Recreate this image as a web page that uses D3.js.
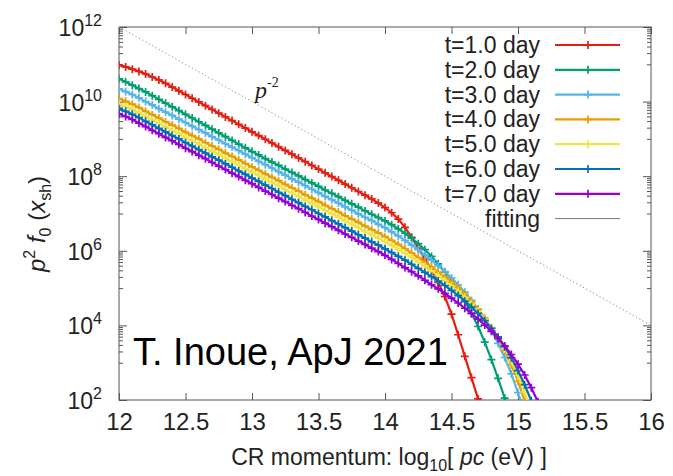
<!DOCTYPE html>
<html>
<head>
<meta charset="utf-8">
<script src="https://cdn.jsdelivr.net/npm/d3@7"></script>
<style>
body{margin:0;background:#fff}
text{font-family:"Liberation Sans",Arial,Helvetica,sans-serif;fill:#222}
</style>
</head>
<body>
<svg id="chart" width="673" height="476"></svg>
<script>
// log10 of CR momentum pc (eV), sample grid of the simulation output
const logP = [12.00,12.05,12.10,12.15,12.20,12.25,12.30,12.35,12.40,12.45,
  12.50,12.55,12.60,12.65,12.70,12.75,12.80,12.85,12.90,12.95,
  13.00,13.05,13.10,13.15,13.20,13.25,13.30,13.35,13.40,13.45,
  13.50,13.55,13.60,13.65,13.70,13.75,13.80,13.85,13.90,13.95,
  14.00,14.05,14.10,14.15,14.20,14.25,14.30,14.35,14.40,14.45,
  14.50,14.55,14.60,14.65,14.70,14.75,14.80,14.85,14.90,14.95,
  15.00,15.05,15.10,15.15,15.20]

// log10 of p^2 f0(x_sh), one array per snapshot
const day1 = [10.98,10.93,10.87,10.81,10.74,10.66,10.58,10.49,10.39,10.29,
  10.19,10.09,9.99,9.89,9.79,9.69,9.59,9.49,9.39,9.29,
  9.19,9.09,8.99,8.89,8.79,8.69,8.59,8.49,8.39,8.29,
  8.19,8.09,7.99,7.89,7.79,7.69,7.59,7.49,7.39,7.28,
  7.16,7.02,6.85,6.63,6.36,6.07,5.78,5.49,5.15,4.77,
  4.30,3.75,3.17,2.60,2.03,1.45]
const day2 = [10.61,10.53,10.44,10.35,10.26,10.16,10.06,9.96,9.86,9.76,
  9.66,9.56,9.46,9.36,9.26,9.16,9.06,8.96,8.86,8.76,
  8.66,8.57,8.47,8.38,8.29,8.19,8.10,8.01,7.91,7.82,
  7.73,7.63,7.54,7.45,7.35,7.26,7.17,7.07,6.98,6.89,
  6.80,6.70,6.59,6.47,6.34,6.19,6.03,5.85,5.65,5.43,
  5.19,4.93,4.64,4.32,3.97,3.55,3.08,2.58,2.05,1.48]
const day3 = [10.34,10.27,10.19,10.10,10.00,9.91,9.81,9.72,9.63,9.53,
  9.44,9.34,9.25,9.16,9.06,8.97,8.87,8.78,8.69,8.59,
  8.50,8.40,8.31,8.22,8.12,8.03,7.93,7.84,7.75,7.65,
  7.56,7.46,7.37,7.28,7.18,7.09,6.99,6.90,6.81,6.71,
  6.62,6.51,6.40,6.28,6.16,6.03,5.89,5.75,5.60,5.44,
  5.27,5.09,4.89,4.67,4.43,4.16,3.86,3.52,3.14,2.70,
  2.20,1.65]
const day4 = [10.08,10.01,9.93,9.84,9.74,9.65,9.56,9.46,9.37,9.28,
  9.18,9.09,9.00,8.90,8.81,8.72,8.62,8.53,8.44,8.34,
  8.25,8.16,8.06,7.97,7.88,7.78,7.69,7.60,7.50,7.41,
  7.32,7.22,7.13,7.04,6.94,6.85,6.76,6.66,6.57,6.48,
  6.38,6.28,6.17,6.06,5.94,5.82,5.69,5.56,5.43,5.30,
  5.16,5.00,4.83,4.64,4.43,4.20,3.94,3.65,3.32,2.94,
  2.50,1.98,1.40]
const day5 = [9.94,9.87,9.79,9.70,9.60,9.51,9.42,9.32,9.23,9.14,
  9.04,8.95,8.86,8.76,8.67,8.58,8.48,8.39,8.30,8.20,
  8.11,8.02,7.92,7.83,7.74,7.64,7.55,7.46,7.36,7.27,
  7.18,7.08,6.99,6.90,6.80,6.71,6.62,6.52,6.43,6.34,
  6.25,6.15,6.04,5.93,5.82,5.70,5.58,5.46,5.33,5.20,
  5.06,4.91,4.75,4.57,4.38,4.17,3.93,3.67,3.38,3.04,
  2.65,2.21,1.72]
const day6 = [9.81,9.74,9.66,9.57,9.47,9.38,9.28,9.19,9.09,9.00,
  8.90,8.81,8.71,8.62,8.52,8.43,8.33,8.24,8.14,8.05,
  7.95,7.86,7.76,7.67,7.57,7.48,7.38,7.29,7.19,7.10,
  7.00,6.91,6.81,6.72,6.62,6.53,6.43,6.34,6.24,6.15,
  6.05,5.95,5.85,5.75,5.64,5.53,5.42,5.31,5.19,5.07,
  4.94,4.80,4.65,4.49,4.32,4.13,3.92,3.69,3.43,3.13,
  2.79,2.41,1.98,1.50]
const day7 = [9.67,9.60,9.52,9.42,9.33,9.23,9.14,9.04,8.95,8.85,
  8.75,8.66,8.56,8.47,8.37,8.27,8.18,8.08,7.99,7.89,
  7.80,7.70,7.60,7.51,7.41,7.32,7.22,7.13,7.03,6.93,
  6.84,6.74,6.65,6.55,6.45,6.36,6.26,6.17,6.07,5.98,
  5.88,5.77,5.66,5.55,5.44,5.33,5.21,5.09,4.98,4.86,
  4.73,4.60,4.46,4.32,4.17,4.01,3.84,3.65,3.45,3.22,
  2.96,2.67,2.33,1.95,1.50]

const labels = ["t=1.0 day","t=2.0 day","t=3.0 day","t=4.0 day","t=5.0 day","t=6.0 day","t=7.0 day"]
const colors = ["#e51e10","#009e73","#56b4e9","#e69f00","#f0e442","#0072b2","#9400d3"]
const allDays = [day1,day2,day3,day4,day5,day6,day7]

// p^-2 guide line: [log10 pc, log10 value]
const guideP = [12,16]
const guideV = [12,4]

const xTicks = [12,12.5,13,13.5,14,14.5,15,15.5,16]
const yExp = [2,4,6,8,10,12]

const svg = d3.select('#chart')
const pLeft = 119, pRight = 651, pTop = 27, pBottom = 400
const x = d3.scaleLinear().domain([12,16]).range([pLeft,pRight])
const y = d3.scaleLog().domain([1e2,1e12]).range([pBottom,pTop])
const axisColor = '#555'

svg.append('clipPath').attr('id','plotclip')
  .append('rect').attr('x',pLeft).attr('y',pTop).attr('width',pRight-pLeft).attr('height',pBottom-pTop)

// minor log ticks: k * 10^(odd) inside each two-decade interval
const minor = []
yExp.slice(0,-1).forEach(e => { for (let k=1;k<10;k++) minor.push(k*Math.pow(10,e+1)) })
const major = yExp.map(e => Math.pow(10,e))

function styleAxis(g){
  g.select('.domain').remove()
  g.selectAll('line').attr('stroke',axisColor)
}

// x axis bottom + top mirror
svg.append('g').attr('transform',`translate(0,${pBottom})`)
  .call(d3.axisBottom(x).tickValues(xTicks).tickSizeInner(-7).tickSizeOuter(0).tickPadding(13)
    .tickFormat(d3.format('~g')))
  .call(styleAxis)
  .selectAll('text').attr('font-size',24).attr('fill','#222')
svg.append('g').attr('transform',`translate(0,${pTop})`)
  .call(d3.axisTop(x).tickValues(xTicks).tickSizeInner(-7).tickSizeOuter(0).tickFormat(''))
  .call(styleAxis)

// y axis left/right, major + minor
svg.append('g').attr('transform',`translate(${pLeft},0)`)
  .call(d3.axisLeft(y).tickValues(major).tickSizeInner(-8).tickSizeOuter(0).tickFormat(''))
  .call(styleAxis)
svg.append('g').attr('transform',`translate(${pLeft},0)`)
  .call(d3.axisLeft(y).tickValues(minor).tickSizeInner(-4).tickSizeOuter(0).tickFormat(''))
  .call(styleAxis)
svg.append('g').attr('transform',`translate(${pRight},0)`)
  .call(d3.axisRight(y).tickValues(major).tickSizeInner(-8).tickSizeOuter(0).tickFormat(''))
  .call(styleAxis)
svg.append('g').attr('transform',`translate(${pRight},0)`)
  .call(d3.axisRight(y).tickValues(minor).tickSizeInner(-4).tickSizeOuter(0).tickFormat(''))
  .call(styleAxis)

// y tick labels 10^n
const ylab = svg.append('g').selectAll('text').data(yExp).enter().append('text')
  .attr('x',102).attr('y',d => y(Math.pow(10,d)) + 9)
  .attr('text-anchor','end').attr('font-size',23)
ylab.append('tspan').text('10')
ylab.append('tspan').attr('dy',-10).attr('font-size',16).text(d => d)

// border box
svg.append('rect').attr('x',pLeft).attr('y',pTop).attr('width',pRight-pLeft).attr('height',pBottom-pTop)
  .attr('fill','none').attr('stroke',axisColor).attr('stroke-width',1)

const plot = svg.append('g').attr('clip-path','url(#plotclip)')

// p^-2 reference
plot.append('path')
  .datum(guideP.map((p,i) => [p, guideV[i]]))
  .attr('d', d3.line().x(d => x(d[0])).y(d => y(Math.pow(10,d[1]))))
  .attr('fill','none').attr('stroke','#8a8a8a').attr('stroke-width',1).attr('stroke-dasharray','1.2,2.6')

const line = d3.line().x(d => x(d[0])).y(d => y(Math.pow(10,d[1])))
const cross = 'M-4,0h8M0,-4v8'

allDays.forEach((vals,i) => {
  const pts = vals.map((v,j) => [logP[j], v])
  const g = plot.append('g')
  g.append('path').datum(pts).attr('d',line)
    .attr('fill','none').attr('stroke',colors[i]).attr('stroke-width',2.2)
  g.selectAll('path.m').data(pts).enter().append('path').attr('class','m')
    .attr('d',cross)
    .attr('transform',d => `translate(${x(d[0])},${y(Math.pow(10,d[1]))})`)
    .attr('stroke',colors[i]).attr('stroke-width',1.7)
})

// p^-2 label
const pl = svg.append('text').attr('x',255).attr('y',98)
  .style('font-family','"Liberation Serif","DejaVu Serif",serif').attr('font-size',24)
pl.append('tspan').attr('font-style','italic').text('p')
pl.append('tspan').attr('dy',-11).attr('font-size',14).text('-2')

// legend
const legend = svg.append('g')
const legY = i => 45 + i*24.8
labels.concat(['fitting']).forEach((lab,i) => {
  legend.append('text').attr('x',540).attr('y',legY(i)).attr('dy','0.35em')
    .attr('text-anchor','end').attr('font-size',23).text(lab)
  if (i < labels.length) {
    legend.append('line').attr('x1',555).attr('x2',620).attr('y1',legY(i)).attr('y2',legY(i))
      .attr('stroke',colors[i]).attr('stroke-width',2.2)
    legend.append('path').attr('d',cross).attr('transform',`translate(588,${legY(i)})`)
      .attr('stroke',colors[i]).attr('stroke-width',1.7)
  } else {
    legend.append('line').attr('x1',555).attr('x2',620).attr('y1',legY(i)).attr('y2',legY(i))
      .attr('stroke','#777').attr('stroke-width',1)
  }
})

// annotation
svg.append('text').attr('x',133).attr('y',365).attr('font-size',38)
  .style('fill','#000').text('T. Inoue, ApJ 2021')

// x title
const xt = svg.append('text').attr('x',389).attr('y',465).attr('text-anchor','middle').attr('font-size',23)
xt.append('tspan').text('CR momentum: log')
xt.append('tspan').attr('dy',6).attr('font-size',16).text('10')
xt.append('tspan').attr('dy',-6).text('[ ')
xt.append('tspan').attr('font-style','italic').text('pc')
xt.append('tspan').text(' (eV) ]')

// y title
const yt = svg.append('text').attr('transform','translate(45,224) rotate(-90)')
  .attr('text-anchor','middle').attr('font-size',24)
yt.append('tspan').attr('font-style','italic').text('p')
yt.append('tspan').attr('dy',-10).attr('font-size',16).text('2')
yt.append('tspan').attr('dy',10).text(' ')
yt.append('tspan').attr('font-style','italic').text('f')
yt.append('tspan').attr('dy',6).attr('font-size',16).text('0')
yt.append('tspan').attr('dy',-6).text(' (')
yt.append('tspan').attr('font-style','italic').text('x')
yt.append('tspan').attr('dy',6).attr('font-size',16).text('sh')
yt.append('tspan').attr('dy',-6).text(')')
</script>
</body>
</html>
